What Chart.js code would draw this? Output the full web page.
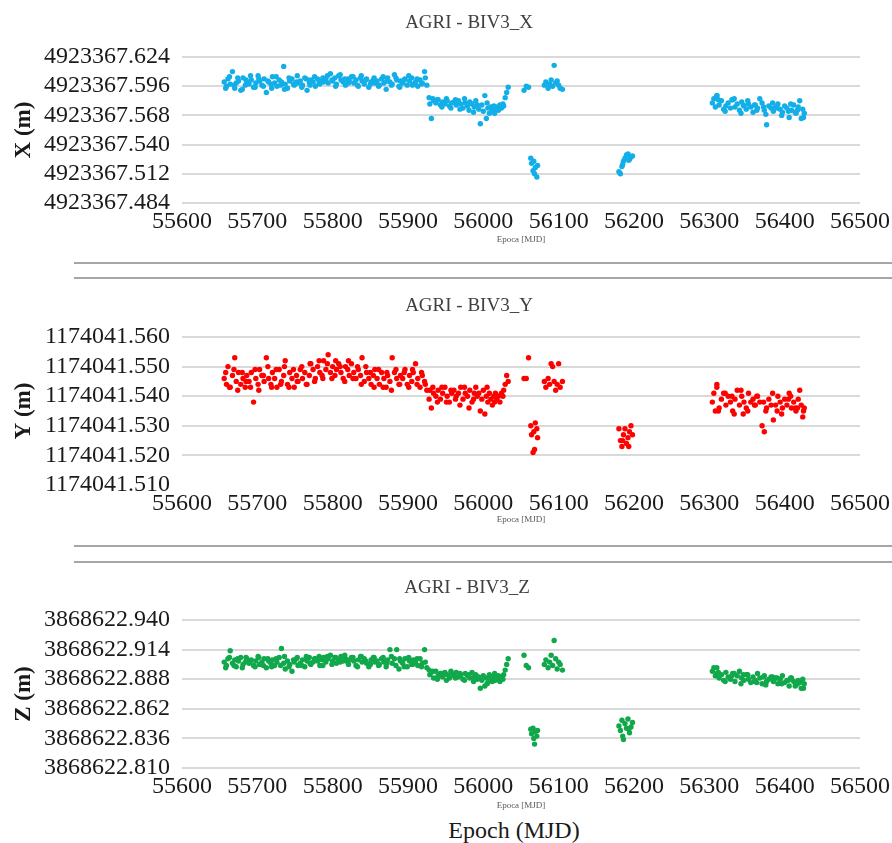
<!DOCTYPE html>
<html>
<head>
<meta charset="utf-8">
<script src="https://cdn.jsdelivr.net/npm/chart.js@4.4.1/dist/chart.umd.min.js"></script>
<style>
  html, body { margin: 0; padding: 0; background: #fff; }
  body { width: 892px; height: 843px; position: relative; overflow: hidden; font-family: 'Liberation Serif', 'Times New Roman', serif; }
  canvas { position: absolute; left: 0; }
  .title { position: absolute; width: 300px; margin-left: -150px; text-align: center; font-size: 19px; line-height: 22px; color: #404040; }
  .sep { position: absolute; left: 74px; right: 0; height: 2px; background: #a6a6a6; }
  .epoch { position: absolute; left: 414px; width: 200px; top: 815px; text-align: center; font-size: 24px; line-height: 30px; color: #1a1a1a; }
</style>
</head>
<body>
<canvas id="chartX" width="892" height="250" style="top:0px"></canvas>
<canvas id="chartY" width="892" height="250" style="top:280px"></canvas>
<canvas id="chartZ" width="892" height="255" style="top:560px"></canvas>
<div class="title" style="left:469px; top:11px">AGRI - BIV3_X</div>
<div class="sep" style="top:262px"></div>
<div class="sep" style="top:277px"></div>
<div class="title" style="left:469px; top:294px">AGRI - BIV3_Y</div>
<div class="sep" style="top:545px"></div>
<div class="sep" style="top:561px"></div>
<div class="title" style="left:467px; top:576px">AGRI - BIV3_Z</div>
<div class="epoch">Epoch (MJD)</div>
<script>
// epochs (MJD) shared by the three components
const epochs = [
  55656, 55659, 55661, 55664, 55667, 55670, 55672, 55675, 55678, 55681, 55684, 55686,
  55689, 55692, 55695, 55698, 55701, 55703, 55706, 55709, 55712, 55715, 55718, 55720,
  55723, 55726, 55729, 55732, 55735, 55737, 55740, 55743, 55746, 55749, 55752, 55754,
  55757, 55760, 55763, 55766, 55769, 55771, 55774, 55777, 55780, 55783, 55786, 55788,
  55791, 55794, 55797, 55800, 55803, 55805, 55808, 55811, 55814, 55817, 55820, 55822,
  55825, 55828, 55831, 55834, 55837, 55839, 55842, 55845, 55848, 55851, 55854, 55856,
  55859, 55862, 55865, 55868, 55871, 55873, 55876, 55879, 55882, 55885, 55888, 55890,
  55893, 55896, 55899, 55902, 55905, 55907, 55910, 55913, 55916, 55919, 55922, 55925,
  55928, 55929, 55931, 55934, 55937, 55940, 55943, 55946, 55949, 55952, 55955, 55958,
  55961, 55964, 55967, 55970, 55973, 55976, 55979, 55982, 55985, 55988, 55990, 55992,
  55994, 55996, 55998, 56000, 56002, 56004, 56006, 56008, 56010, 56012, 56014, 56016,
  56018, 56020, 56022, 56024, 56026, 56027, 56029, 56031, 56033, 56054, 56057, 56060,
  56063, 56064, 56066, 56067, 56068, 56069, 56071, 56072, 56081, 56083, 56086, 56088,
  56090, 56092, 56094, 56096, 56098, 56100, 56102, 56105, 56180, 56182, 56184, 56186,
  56188, 56190, 56192, 56194, 56196, 56198, 56185, 56193, 56304, 56306, 56308, 56310,
  56313, 56316, 56319, 56322, 56325, 56328, 56331, 56334, 56337, 56340, 56343, 56346,
  56349, 56352, 56355, 56358, 56361, 56364, 56367, 56370, 56373, 56376, 56379, 56382,
  56385, 56388, 56391, 56394, 56397, 56400, 56403, 56406, 56409, 56412, 56415, 56418,
  56420, 56422, 56424, 56426, 56310, 56330, 56360, 56390, 56405, 56417, 56372, 56345,
  55658, 55663, 55669, 55674, 55680, 55685, 55691, 55697, 55702, 55708, 55714, 55719,
  55725, 55731, 55736, 55742, 55748, 55753, 55759, 55765, 55770, 55776, 55782, 55787,
  55793, 55799, 55804, 55810, 55816, 55821, 55827, 55833, 55838, 55844, 55850, 55855,
  55861, 55867, 55872, 55878, 55884, 55889, 55895, 55901, 55906, 55912, 55918, 55923,
  55933, 55939, 55945, 55951, 55957, 55963, 55969, 55975, 55981, 55987, 56005, 56015,
  56312, 56321, 56333, 56342, 56351, 56363, 56375, 56384, 56396, 56408, 56414, 56425
];

const xValues = [
  4923367.600, 4923367.596, 4923367.603, 4923367.598, 4923367.610, 4923367.594, 4923367.599, 4923367.601, 4923367.592, 4923367.604, 4923367.597, 4923367.600,
  4923367.598, 4923367.602, 4923367.595, 4923367.599, 4923367.606, 4923367.601, 4923367.597, 4923367.603, 4923367.590, 4923367.600, 4923367.598, 4923367.605,
  4923367.599, 4923367.596, 4923367.602, 4923367.600, 4923367.615, 4923367.598, 4923367.594, 4923367.601, 4923367.603, 4923367.597, 4923367.600, 4923367.599,
  4923367.601, 4923367.597, 4923367.604, 4923367.592, 4923367.599, 4923367.602, 4923367.600, 4923367.596, 4923367.603, 4923367.598, 4923367.601, 4923367.600,
  4923367.603, 4923367.599, 4923367.608, 4923367.601, 4923367.604, 4923367.598, 4923367.606, 4923367.602, 4923367.600, 4923367.597, 4923367.603, 4923367.601,
  4923367.605, 4923367.599, 4923367.602, 4923367.596, 4923367.604, 4923367.601, 4923367.598, 4923367.603, 4923367.595, 4923367.600, 4923367.602, 4923367.599,
  4923367.601, 4923367.597, 4923367.603, 4923367.599, 4923367.593, 4923367.604, 4923367.600, 4923367.598, 4923367.607, 4923367.602, 4923367.596, 4923367.601,
  4923367.599, 4923367.603, 4923367.597, 4923367.601, 4923367.604, 4923367.598, 4923367.600, 4923367.596, 4923367.602, 4923367.599, 4923367.610, 4923367.597,
  4923367.585, 4923367.579, 4923367.565, 4923367.582, 4923367.580, 4923367.583, 4923367.578, 4923367.581, 4923367.579, 4923367.582, 4923367.577, 4923367.580,
  4923367.581, 4923367.578, 4923367.582, 4923367.579, 4923367.575, 4923367.580, 4923367.577, 4923367.581, 4923367.579, 4923367.576, 4923367.582, 4923367.578,
  4923367.574, 4923367.560, 4923367.578, 4923367.572, 4923367.587, 4923367.565, 4923367.575, 4923367.570, 4923367.576, 4923367.573, 4923367.577, 4923367.574,
  4923367.576, 4923367.573, 4923367.578, 4923367.575, 4923367.579, 4923367.577, 4923367.585, 4923367.590, 4923367.595, 4923367.592, 4923367.596, 4923367.595,
  4923367.527, 4923367.522, 4923367.515, 4923367.524, 4923367.512, 4923367.518, 4923367.509, 4923367.520, 4923367.597, 4923367.600, 4923367.594, 4923367.598,
  4923367.602, 4923367.596, 4923367.616, 4923367.599, 4923367.601, 4923367.597, 4923367.594, 4923367.593, 4923367.514, 4923367.512, 4923367.519, 4923367.524,
  4923367.527, 4923367.530, 4923367.531, 4923367.526, 4923367.528, 4923367.529, 4923367.521, 4923367.525, 4923367.580, 4923367.584, 4923367.576, 4923367.587,
  4923367.578, 4923367.582, 4923367.574, 4923367.577, 4923367.580, 4923367.575, 4923367.583, 4923367.576, 4923367.579, 4923367.573, 4923367.581, 4923367.577,
  4923367.574, 4923367.579, 4923367.576, 4923367.571, 4923367.578, 4923367.575, 4923367.584, 4923367.580, 4923367.573, 4923367.559, 4923367.577, 4923367.575,
  4923367.572, 4923367.576, 4923367.579, 4923367.574, 4923367.571, 4923367.577, 4923367.575, 4923367.566, 4923367.573, 4923367.578, 4923367.570, 4923367.576,
  4923367.582, 4923367.565, 4923367.574, 4923367.570, 4923367.587, 4923367.583, 4923367.578, 4923367.575, 4923367.572, 4923367.573, 4923367.576, 4923367.578,
  4923367.594, 4923367.605, 4923367.597, 4923367.604, 4923367.593, 4923367.602, 4923367.606, 4923367.595, 4923367.603, 4923367.596, 4923367.601, 4923367.594,
  4923367.605, 4923367.597, 4923367.593, 4923367.604, 4923367.598, 4923367.606, 4923367.595, 4923367.603, 4923367.597, 4923367.605, 4923367.599, 4923367.604,
  4923367.606, 4923367.602, 4923367.596, 4923367.607, 4923367.603, 4923367.599, 4923367.605, 4923367.597, 4923367.606, 4923367.602, 4923367.598, 4923367.604,
  4923367.596, 4923367.605, 4923367.601, 4923367.597, 4923367.604, 4923367.595, 4923367.602, 4923367.606, 4923367.597, 4923367.603, 4923367.598, 4923367.604,
  4923367.584, 4923367.583, 4923367.576, 4923367.584, 4923367.575, 4923367.583, 4923367.574, 4923367.584, 4923367.573, 4923367.571, 4923367.580, 4923367.570,
  4923367.583, 4923367.572, 4923367.584, 4923367.570, 4923367.582, 4923367.573, 4923367.569, 4923367.580, 4923367.568, 4923367.579, 4923367.571, 4923367.566
];

const yValues = [
  1174041.546, 1174041.544, 1174041.550, 1174041.543, 1174041.547, 1174041.553, 1174041.545, 1174041.548, 1174041.544, 1174041.546, 1174041.543, 1174041.547,
  1174041.545, 1174041.548, 1174041.538, 1174041.546, 1174041.544, 1174041.549, 1174041.547, 1174041.545, 1174041.553, 1174041.546, 1174041.544, 1174041.548,
  1174041.546, 1174041.543, 1174041.549, 1174041.545, 1174041.547, 1174041.552, 1174041.544, 1174041.548, 1174041.546, 1174041.543, 1174041.547, 1174041.545,
  1174041.549, 1174041.546, 1174041.548, 1174041.544, 1174041.547, 1174041.551, 1174041.549, 1174041.546, 1174041.550, 1174041.548, 1174041.547, 1174041.552,
  1174041.549, 1174041.554, 1174041.548, 1174041.550, 1174041.547, 1174041.549, 1174041.551, 1174041.548, 1174041.546, 1174041.550, 1174041.549, 1174041.547,
  1174041.551, 1174041.548, 1174041.546, 1174041.549, 1174041.547, 1174041.553, 1174041.545, 1174041.548, 1174041.546, 1174041.544, 1174041.547, 1174041.549,
  1174041.546, 1174041.544, 1174041.548, 1174041.546, 1174041.543, 1174041.547, 1174041.545, 1174041.553, 1174041.548, 1174041.546, 1174041.544, 1174041.547,
  1174041.546, 1174041.549, 1174041.544, 1174041.547, 1174041.545, 1174041.548, 1174041.551, 1174041.546, 1174041.543, 1174041.547, 1174041.545, 1174041.542,
  1174041.539, 1174041.542, 1174041.536, 1174041.541, 1174041.540, 1174041.542, 1174041.539, 1174041.541, 1174041.543, 1174041.540, 1174041.538, 1174041.541,
  1174041.542, 1174041.540, 1174041.541, 1174041.543, 1174041.539, 1174041.541, 1174041.540, 1174041.542, 1174041.538, 1174041.541, 1174041.543, 1174041.540,
  1174041.541, 1174041.535, 1174041.539, 1174041.542, 1174041.534, 1174041.540, 1174041.538, 1174041.541, 1174041.539, 1174041.537, 1174041.540, 1174041.541,
  1174041.539, 1174041.540, 1174041.538, 1174041.541, 1174041.540, 1174041.542, 1174041.544, 1174041.547, 1174041.545, 1174041.546, 1174041.546, 1174041.553,
  1174041.530, 1174041.527, 1174041.521, 1174041.528, 1174041.522, 1174041.531, 1174041.529, 1174041.526, 1174041.545, 1174041.543, 1174041.546, 1174041.544,
  1174041.551, 1174041.550, 1174041.545, 1174041.542, 1174041.544, 1174041.551, 1174041.543, 1174041.545, 1174041.529, 1174041.525, 1174041.523, 1174041.527,
  1174041.529, 1174041.524, 1174041.526, 1174041.528, 1174041.530, 1174041.527, 1174041.525, 1174041.523, 1174041.538, 1174041.541, 1174041.535, 1174041.544,
  1174041.536, 1174041.539, 1174041.541, 1174041.537, 1174041.540, 1174041.538, 1174041.535, 1174041.539, 1174041.542, 1174041.537, 1174041.540, 1174041.538,
  1174041.536, 1174041.541, 1174041.538, 1174041.539, 1174041.537, 1174041.540, 1174041.538, 1174041.530, 1174041.528, 1174041.536, 1174041.539, 1174041.537,
  1174041.532, 1174041.537, 1174041.540, 1174041.538, 1174041.536, 1174041.539, 1174041.537, 1174041.541, 1174041.536, 1174041.538, 1174041.535, 1174041.539,
  1174041.542, 1174041.537, 1174041.533, 1174041.536, 1174041.543, 1174041.540, 1174041.537, 1174041.535, 1174041.539, 1174041.536, 1174041.538, 1174041.534,
  1174041.548, 1174041.543, 1174041.549, 1174041.542, 1174041.548, 1174041.545, 1174041.543, 1174041.549, 1174041.542, 1174041.547, 1174041.550, 1174041.543,
  1174041.549, 1174041.544, 1174041.550, 1174041.543, 1174041.549, 1174041.545, 1174041.550, 1174041.544, 1174041.551, 1174041.545, 1174041.552, 1174041.546,
  1174041.551, 1174041.546, 1174041.552, 1174041.550, 1174041.545, 1174041.552, 1174041.546, 1174041.550, 1174041.544, 1174041.550, 1174041.548, 1174041.543,
  1174041.549, 1174041.543, 1174041.548, 1174041.542, 1174041.549, 1174041.544, 1174041.548, 1174041.543, 1174041.549, 1174041.544, 1174041.548, 1174041.544,
  1174041.543, 1174041.538, 1174041.543, 1174041.538, 1174041.542, 1174041.539, 1174041.537, 1174041.543, 1174041.536, 1174041.539, 1174041.543, 1174041.538,
  1174041.535, 1174041.541, 1174041.534, 1174041.542, 1174041.535, 1174041.540, 1174041.535, 1174041.541, 1174041.534, 1174041.540, 1174041.536, 1174041.535
];

const zValues = [
  3868622.903, 3868622.900, 3868622.906, 3868622.913, 3868622.902, 3868622.905, 3868622.899, 3868622.904, 3868622.907, 3868622.901, 3868622.903, 3868622.906,
  3868622.902, 3868622.905, 3868622.900, 3868622.904, 3868622.908, 3868622.901, 3868622.903, 3868622.906, 3868622.898, 3868622.904, 3868622.902, 3868622.905,
  3868622.900, 3868622.903, 3868622.907, 3868622.915, 3868622.902, 3868622.897, 3868622.904, 3868622.901, 3868622.895, 3868622.903, 3868622.906, 3868622.900,
  3868622.902, 3868622.905, 3868622.899, 3868622.904, 3868622.907, 3868622.901, 3868622.903, 3868622.906, 3868622.904, 3868622.900, 3868622.905, 3868622.907,
  3868622.903, 3868622.906, 3868622.909, 3868622.904, 3868622.907, 3868622.902, 3868622.905, 3868622.908, 3868622.904, 3868622.906, 3868622.903, 3868622.905,
  3868622.907, 3868622.904, 3868622.900, 3868622.905, 3868622.908, 3868622.903, 3868622.906, 3868622.902, 3868622.899, 3868622.905, 3868622.907, 3868622.903,
  3868622.904, 3868622.901, 3868622.906, 3868622.903, 3868622.899, 3868622.905, 3868622.914, 3868622.902, 3868622.906, 3868622.914, 3868622.897, 3868622.904,
  3868622.902, 3868622.906, 3868622.899, 3868622.904, 3868622.901, 3868622.905, 3868622.903, 3868622.900, 3868622.906, 3868622.902, 3868622.914, 3868622.898,
  3868622.896, 3868622.892, 3868622.894, 3868622.889, 3868622.895, 3868622.891, 3868622.893, 3868622.890, 3868622.894, 3868622.892, 3868622.889, 3868622.893,
  3868622.891, 3868622.894, 3868622.890, 3868622.892, 3868622.888, 3868622.893, 3868622.891, 3868622.889, 3868622.894, 3868622.890, 3868622.892, 3868622.888,
  3868622.890, 3868622.880, 3868622.887, 3868622.891, 3868622.882, 3868622.889, 3868622.885, 3868622.892, 3868622.888, 3868622.886, 3868622.890, 3868622.887,
  3868622.889, 3868622.891, 3868622.886, 3868622.890, 3868622.888, 3868622.892, 3868622.896, 3868622.901, 3868622.906, 3868622.909, 3868622.900, 3868622.898,
  3868622.844, 3868622.840, 3868622.845, 3868622.836, 3868622.831, 3868622.842, 3868622.838, 3868622.843, 3868622.901, 3868622.905, 3868622.898, 3868622.903,
  3868622.909, 3868622.900, 3868622.922, 3868622.906, 3868622.897, 3868622.903, 3868622.901, 3868622.896, 3868622.847, 3868622.843, 3868622.852, 3868622.835,
  3868622.849, 3868622.845, 3868622.853, 3868622.841, 3868622.846, 3868622.850, 3868622.838, 3868622.844, 3868622.895, 3868622.898, 3868622.891, 3868622.893,
  3868622.889, 3868622.892, 3868622.887, 3868622.894, 3868622.890, 3868622.888, 3868622.893, 3868622.886, 3868622.891, 3868622.895, 3868622.889, 3868622.887,
  3868622.892, 3868622.888, 3868622.885, 3868622.890, 3868622.887, 3868622.893, 3868622.889, 3868622.884, 3868622.891, 3868622.886, 3868622.888, 3868622.890,
  3868622.886, 3868622.889, 3868622.884, 3868622.888, 3868622.891, 3868622.885, 3868622.887, 3868622.882, 3868622.889, 3868622.886, 3868622.883, 3868622.887,
  3868622.885, 3868622.880, 3868622.888, 3868622.884, 3868622.898, 3868622.891, 3868622.886, 3868622.889, 3868622.887, 3868622.884, 3868622.890, 3868622.892,
  3868622.898, 3868622.907, 3868622.900, 3868622.906, 3868622.898, 3868622.907, 3868622.904, 3868622.899, 3868622.907, 3868622.900, 3868622.906, 3868622.899,
  3868622.906, 3868622.900, 3868622.908, 3868622.899, 3868622.905, 3868622.907, 3868622.900, 3868622.908, 3868622.902, 3868622.906, 3868622.908, 3868622.900,
  3868622.908, 3868622.901, 3868622.907, 3868622.903, 3868622.909, 3868622.901, 3868622.907, 3868622.899, 3868622.908, 3868622.904, 3868622.901, 3868622.907,
  3868622.900, 3868622.907, 3868622.902, 3868622.908, 3868622.900, 3868622.906, 3868622.899, 3868622.907, 3868622.901, 3868622.906, 3868622.899, 3868622.903,
  3868622.895, 3868622.888, 3868622.893, 3868622.887, 3868622.895, 3868622.889, 3868622.893, 3868622.887, 3868622.892, 3868622.886, 3868622.884, 3868622.893,
  3868622.894, 3868622.886, 3868622.893, 3868622.884, 3868622.892, 3868622.885, 3868622.883, 3868622.890, 3868622.884, 3868622.889, 3868622.882, 3868622.880
];

const epochTicks = [55600, 55700, 55800, 55900, 56000, 56100, 56200, 56300, 56400, 56500];
const xTicks = [4923367.484, 4923367.512, 4923367.540, 4923367.568, 4923367.596, 4923367.624];
const yTicks = [1174041.510, 1174041.520, 1174041.530, 1174041.540, 1174041.550, 1174041.560];
const zTicks = [3868622.810, 3868622.836, 3868622.862, 3868622.888, 3868622.914, 3868622.940];

const serif = "'Liberation Serif', 'Times New Roman', serif";

function makePanel(id, values, tickValues, color, axisTitle, lay) {
  const points = epochs.map((e, i) => ({ x: e, y: values[i] }));
  return new Chart(document.getElementById(id), {
    type: 'scatter',
    data: {
      datasets: [{
        data: points,
        backgroundColor: color,
        borderWidth: 0,
        pointRadius: 2.7,
        pointHoverRadius: 2.7
      }]
    },
    options: {
      responsive: false,
      animation: false,
      layout: { padding: { top: lay.top, left: 0, right: 0, bottom: 0 } },
      plugins: { legend: { display: false }, tooltip: { enabled: false } },
      scales: {
        x: {
          type: 'linear',
          min: epochTicks[0],
          max: epochTicks[epochTicks.length - 1],
          afterBuildTicks: axis => { axis.ticks = epochTicks.map(v => ({ value: v })); },
          afterFit: axis => { axis.height = lay.xHeight; axis.paddingLeft = 0; axis.paddingRight = 32; },
          grid: { display: false, drawTicks: false },
          border: { display: false },
          ticks: {
            autoSkip: false, maxRotation: 0, padding: 4, color: '#1a1a1a',
            font: { family: serif, size: 24 },
            callback: v => String(v)
          },
          title: {
            display: true, text: 'Epoca [MJD]', color: '#595959',
            font: { family: serif, size: 9 },
            padding: { top: 0, bottom: lay.titlePad }
          }
        },
        y: {
          type: 'linear',
          min: tickValues[0],
          max: tickValues[tickValues.length - 1],
          afterBuildTicks: axis => { axis.ticks = tickValues.map(v => ({ value: v })); },
          afterFit: axis => { axis.width = 182; axis.paddingTop = 0; axis.paddingBottom = 0; },
          grid: {
            drawTicks: false,
            lineWidth: 2,
            color: ctx => (ctx.index === 0 && !lay.bottomGrid) ? 'rgba(0,0,0,0)' : '#d9d9d9'
          },
          border: { display: false },
          ticks: {
            autoSkip: false, padding: 12, color: '#1a1a1a',
            font: { family: serif, size: 24 },
            callback: v => Number(v).toFixed(3)
          },
          title: {
            display: true, text: axisTitle, color: '#1a1a1a',
            font: { family: serif, size: 23, weight: 'bold' },
            padding: { top: 10, bottom: 0 }
          }
        }
      }
    }
  });
}

makePanel('chartX', xValues, xTicks, '#12aee8', 'X (m)', { top: 57, xHeight: 47, titlePad: 5, bottomGrid: true });
makePanel('chartY', yValues, yTicks, '#ff0000', 'Y (m)', { top: 57, xHeight: 45, titlePad: 5, bottomGrid: false });
makePanel('chartZ', zValues, zTicks, '#10a84a', 'Z (m)', { top: 60, xHeight: 47, titlePad: 4, bottomGrid: true });
</script>
</body>
</html>
